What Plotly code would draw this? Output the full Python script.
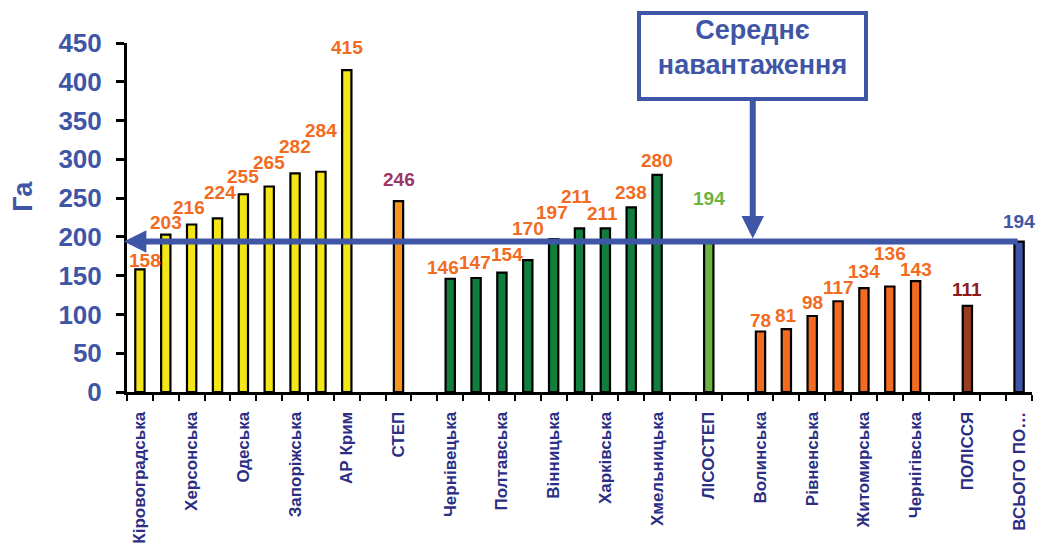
import plotly.graph_objects as go

# ---------------- data ----------------
step_values = [158, 203, 216, 224, 255, 265, 282, 284, 415]
step_ticks = ["Кіровоградська", "", "Херсонська", "", "Одеська", "", "Запоріжська", "", "АР Крим"]
step_total = 246
step_total_tick = "СТЕП"

lisostep_values = [146, 147, 154, 170, 197, 211, 211, 238, 280]
lisostep_ticks = ["Чернівецька", "", "Полтавська", "", "Вінницька", "", "Харківська", "", "Хмельницька"]
lisostep_total = 194
lisostep_total_tick = "ЛІСОСТЕП"

polissya_values = [78, 81, 98, 117, 134, 136, 143]
polissya_ticks = ["Волинська", "", "Рівненська", "", "Житомирська", "", "Чернігівська"]
polissya_total = 111
polissya_total_tick = "ПОЛІССЯ"

ukraine_total = 194
ukraine_total_tick = "ВСЬОГО ПО…"

average_load = 194
y_axis_title = "Га"
box_text = "Середнє<br>навантаження"

# ---------------- styles ----------------
FONT = "Liberation Sans"
BLUE = "#3F56A6"
NAVY = "#2B2E83"
LBL_ORANGE = "#F26B21"

groups = [
    # values, ticks, bar colour, label colour, label lift (px), label x nudge (px)
    (step_values, step_ticks, "#F3E617", LBL_ORANGE,
     [9, 12, 17, 26, 18, 24, 27, 41, 23], [5, 0, -3, 2, 0, 0, 0, 0, 0]),
    ([step_total], [step_total_tick], "#F7941D", "#9B3667", [22], [0]),
    (lisostep_values, lisostep_ticks, "#127E3E", LBL_ORANGE,
     [11, 15, 18, 32, 27, 32, 15, 15, 14], [-7, -1, 5, 0, -2, -3, -3, 0, 0]),
    ([lisostep_total], [lisostep_total_tick], "#6DB33F", "#6DB33F", [43], [0]),
    (polissya_values, polissya_ticks, "#F26B21", LBL_ORANGE,
     [11, 14, 14, 14, 17, 33, 12], [0, 0, 0, 0, 0, 0, 0]),
    ([polissya_total], [polissya_total_tick], "#9A3A1E", "#8B1A1A", [16], [0]),
    ([ukraine_total], [ukraine_total_tick], BLUE, BLUE, [20], [0]),
]

fig = go.Figure()
annotations = []
tickvals, ticktext = [], []
pos = 0
for vals, ticks, color, lcolor, lifts, nudges in groups:
    xs = list(range(pos, pos + len(vals)))
    fig.add_trace(go.Bar(
        x=xs, y=vals, width=0.36,
        marker=dict(color=color, line=dict(color="black", width=2.2)),
        showlegend=False, hoverinfo="y",
    ))
    for x, v, t, lift, nudge in zip(xs, vals, ticks, lifts, nudges):
        annotations.append(dict(
            x=x, y=v, xref="x", yref="y", text=str(v), showarrow=False,
            yanchor="middle", yshift=lift, xshift=nudge,
            font=dict(family=FONT, size=19, color=lcolor, weight="bold"),
        ))
        if t:
            tickvals.append(x)
            ticktext.append(t)
    pos += len(vals) + 1  # one empty slot between groups

n_slots = pos - 1
last_x = n_slots - 1

# y-axis title placed like the reference (above the axis middle)
annotations.append(dict(
    x=-0.115, y=0.562, xref="paper", yref="paper", text=y_axis_title,
    xanchor="center", yanchor="middle",
    showarrow=False, textangle=-90,
    font=dict(family=FONT, size=27, color=BLUE, weight="bold"),
))
# horizontal average arrow
annotations.append(dict(
    x=-0.62, y=average_load, xref="x", yref="y",
    ax=last_x, ay=average_load, axref="x", ayref="y",
    showarrow=True, arrowhead=2, arrowsize=0.75, arrowwidth=6, arrowcolor=BLUE, text="",
))
# callout box with arrow pointing down to the line
annotations.append(dict(
    x=23.7, y=average_load, xref="x", yref="y",
    ax=0, ay=-186, axref="pixel", ayref="pixel",
    showarrow=True, arrowhead=2, arrowsize=0.75, arrowwidth=6, arrowcolor=BLUE, standoff=3,
    text=box_text, align="center", valign="top",
    font=dict(family=FONT, size=27, color=BLUE, weight="bold"),
    bordercolor=BLUE, borderwidth=4, borderpad=0, bgcolor="white",
    width=223, height=82,
))

fig.update_layout(
    width=1030, height=536,
    margin=dict(l=119, r=6, t=35, b=152, autoexpand=False),
    paper_bgcolor="white", plot_bgcolor="white",
    annotations=annotations,
    xaxis=dict(
        range=[-0.5, n_slots - 0.5], automargin=False,
        tickmode="array", tickvals=tickvals, ticktext=ticktext,
        tickangle=-90, ticks="", ticklabelstandoff=10,
        tickfont=dict(family=FONT, size=17, color=NAVY, weight="bold"),
        showline=True, linecolor="black", linewidth=3,
        showgrid=False, zeroline=False,
        minor=dict(tickmode="array", tickvals=[i - 0.5 for i in range(n_slots + 1)],
                   ticks="outside", ticklen=6, tickwidth=2, tickcolor="black", showgrid=False),
        fixedrange=True,
    ),
    yaxis=dict(
        range=[0, 450], automargin=False,
        tickmode="array", tickvals=list(range(0, 451, 50)),
        ticks="outside", ticklen=8, tickwidth=3, tickcolor="black",
        ticklabelstandoff=9,
        tickfont=dict(family=FONT, size=26, color=BLUE, weight="bold"),
        showline=True, linecolor="black", linewidth=3,
        showgrid=False, zeroline=False,
        fixedrange=True,
    ),
)

fig.write_html("out.html")
